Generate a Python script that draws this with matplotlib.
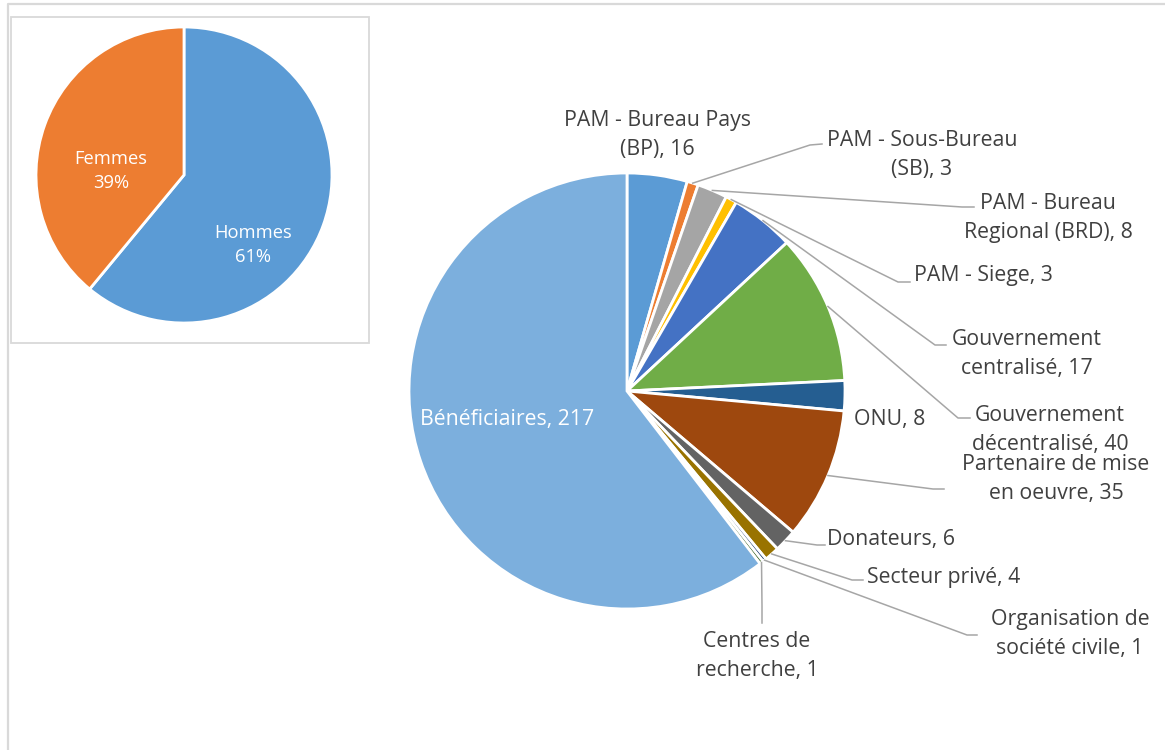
import numpy as np
import matplotlib
matplotlib.use("Agg")
import matplotlib.pyplot as plt
from matplotlib.lines import Line2D
from matplotlib.patches import Rectangle

plt.rcParams['font.family'] = ['Open Sans', 'DejaVu Sans']

# ---------------- data ----------------
categories = [
    "PAM - Bureau Pays\n(BP)", "PAM - Sous-Bureau\n(SB)", "PAM - Bureau\nRegional (BRD)",
    "PAM - Siege", "Gouvernement\ncentralisé", "Gouvernement\ndécentralisé",
    "ONU", "Partenaire de mise\nen oeuvre", "Donateurs", "Secteur privé",
    "Organisation de\nsociété civile", "Centres de\nrecherche", "Bénéficiaires",
]
values = [16, 3, 8, 3, 17, 40, 8, 35, 6, 4, 1, 1, 217]
colors = ["#5B9BD5", "#ED7D31", "#A5A5A5", "#FFC000", "#4472C4", "#70AD47",
          "#255E91", "#9E480E", "#636363", "#997300", "#264478", "#43682B", "#7CAFDD"]

gender_labels = ["Hommes", "Femmes"]
gender_pct = [61, 39]
gender_colors = ["#5B9BD5", "#ED7D31"]

# ---------------- layout (pixel coordinates, y down) ----------------
W, H = 1165, 750
big_center, big_r = (627, 391), 218
small_center, small_r = (184, 175), 148

# label centre positions
label_pos = [(657, 135), (922, 155), (1048, 218), (983, 275), (1027, 354),
             (1050, 430), (890, 419), (1056, 479), (891, 540), (944, 578),
             (1070, 634), (757, 656), (507, 420)]
# leader lines: elbow point and end point (None = no leader)
leaders = [None, ((810, 145), (822, 144)), ((962, 207), (974, 207)),
           ((898, 282), (910, 282)), ((935, 345), (946, 345)),
           ((958, 418), (970, 418)), None, ((933, 489), (944, 489)),
           ((817, 545), (825, 545)), ((852, 580), (863, 580)),
           ((967, 635), (977, 635)), ((762, 606), (762, 623)), None]

fig = plt.figure(figsize=(W / 100, H / 100), dpi=100)
ax = fig.add_axes([0, 0, 1, 1])

# big pie (y-axis inverted, so counterclock=True renders clockwise)
wedges, _ = ax.pie(values, colors=colors, startangle=-90, counterclock=True,
                   center=big_center, radius=big_r,
                   wedgeprops=dict(edgecolor="white", linewidth=2.0))

# small pie
ax.pie(gender_pct, colors=gender_colors, startangle=-90, counterclock=True,
       center=small_center, radius=small_r,
       wedgeprops=dict(edgecolor="white", linewidth=2.0))

ax.set_xlim(0, W)
ax.set_ylim(H, 0)
ax.set_aspect("equal")
ax.axis("off")

text_color = "#404040"
line_color = "#A6A6A6"
fs = 15.3

for i, (w, cat, val) in enumerate(zip(wedges, categories, values)):
    lx, ly = label_pos[i]
    txt = f"{cat}, {val}"
    col = "white" if cat == "Bénéficiaires" else text_color
    ax.text(lx, ly, txt, ha="center", va="center", fontsize=fs, color=col,
            linespacing=1.53, multialignment="center")
    if leaders[i] is not None:
        ang = np.deg2rad((w.theta1 + w.theta2) / 2)
        ax0 = big_center[0] + big_r * np.cos(ang)
        ay0 = big_center[1] + big_r * np.sin(ang)
        (ex, ey), (fx, fy) = leaders[i]
        ax.add_line(Line2D([ax0, ex, fx], [ay0, ey, fy], color=line_color,
                           linewidth=1.1))

# small pie labels
small_label_pos = [(253, 245), (111, 171)]
for (lx, ly), lab, p in zip(small_label_pos, gender_labels, gender_pct):
    ax.text(lx, ly, f"{lab}\n{p}%", ha="center", va="center", fontsize=13.2,
            color="white", linespacing=1.5)

# inset frame and outer frame
ax.add_patch(Rectangle((11, 17), 358, 326, fill=False, edgecolor="#D9D9D9",
                       linewidth=1.3))
ax.add_line(Line2D([7.5, 7.5, W], [H, 3.5, 3.5], color="#D9D9D9", linewidth=1.6))

fig.savefig("out.png", dpi=100)
